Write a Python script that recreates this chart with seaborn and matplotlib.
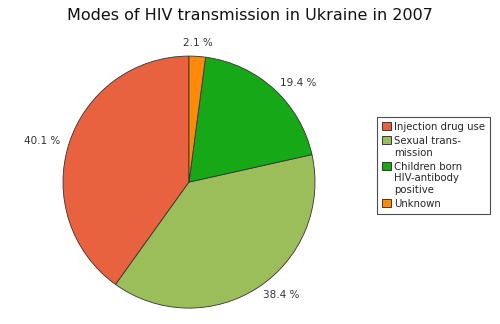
import matplotlib
matplotlib.use("Agg")
import matplotlib.pyplot as plt
import seaborn as sns

sns.set_style("white")
plt.rcParams['font.family'] = ['DejaVu Sans']

categories = ["Injection drug use", "Sexual trans-\nmission", "Children born\nHIV-antibody\npositive", "Unknown"]
values = [40.1, 38.4, 19.4, 2.1]
pct_labels = [f"{v:.1f} %" for v in values]
colors = ["#e8623f", "#9bbd5a", "#17a817", "#ff8a0a"]

fig = plt.figure(figsize=(5.0, 3.24), dpi=100)
fig.patch.set_facecolor("white")
ax = fig.add_axes([0.126, 0.049, 0.504, 0.778])

wedges, texts = ax.pie(
    values, colors=colors, startangle=90, counterclock=True,
    labels=pct_labels, labeldistance=1.07,
    wedgeprops=dict(edgecolor="#333333", linewidth=0.6),
    textprops=dict(fontsize=7.5, color="#333333"))
texts[3].set_ha("center")
texts[3].set_va("bottom")
ax.set_xlim(-1, 1)
ax.set_ylim(-1, 1)
ax.set_aspect("equal")

fig.suptitle("Modes of HIV transmission in Ukraine in 2007", fontsize=11.5, y=0.975, color="#111111")

leg = fig.legend(wedges, categories, loc="upper left", bbox_to_anchor=(0.744, 0.655),
                 fontsize=7.3, frameon=True, fancybox=False, edgecolor="#222222",
                 handlelength=0.9, handleheight=0.9, handletextpad=0.3,
                 borderpad=0.5, labelspacing=0.4)
leg.get_frame().set_linewidth(0.8)
for h in leg.legend_handles:
    h.set_edgecolor("#222222")
    h.set_linewidth(0.6)
for col in leg._legend_handle_box.get_children():
    for item in col.get_children():
        item.align = "top"

fig.savefig("out.png", dpi=100, facecolor="white")
